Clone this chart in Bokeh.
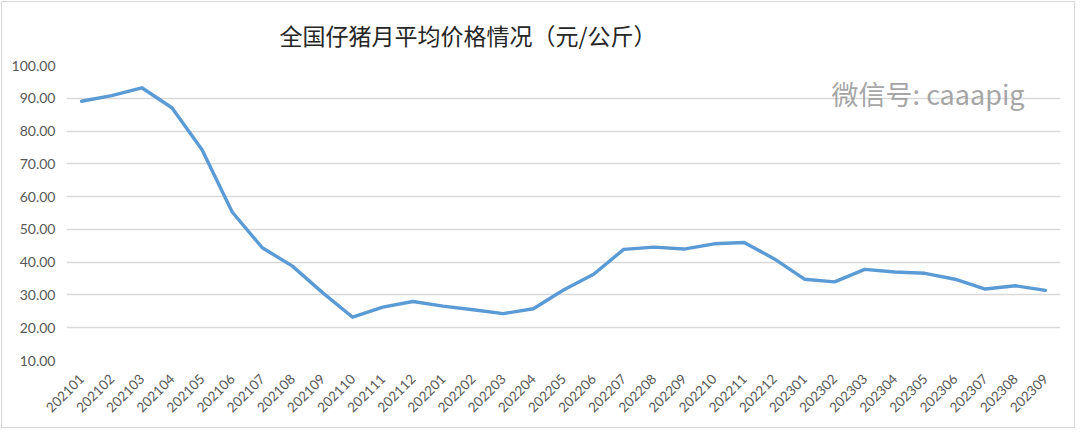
import math
from bokeh.plotting import figure
from bokeh.models import (ColumnDataSource, FixedTicker, NumeralTickFormatter, Label, Range1d,
                          Title, InlineStyleSheet)
from bokeh.embed import file_html
from bokeh.resources import INLINE

title_text = "全国仔猪月平均价格情况（元/公斤）"
watermark_text = "微信号: caaapig"

months = ["202101", "202102", "202103", "202104", "202105", "202106", "202107", "202108",
          "202109", "202110", "202111", "202112", "202201", "202202", "202203", "202204",
          "202205", "202206", "202207", "202208", "202209", "202210", "202211", "202212",
          "202301", "202302", "202303", "202304", "202305", "202306", "202307", "202308",
          "202309"]
prices = [89.1, 90.8, 93.2, 87.1, 74.3, 55.3, 44.4, 38.8, 30.7, 23.2, 26.3, 28.0,
          26.6, 25.5, 24.3, 25.8, 31.5, 36.3, 43.9, 44.6, 44.0, 45.6, 46.0, 41.0,
          34.8, 34.0, 37.8, 37.0, 36.6, 34.8, 31.8, 32.8, 31.4]
y_ticks = [10, 20, 30, 40, 50, 60, 70, 80, 90, 100]

src = ColumnDataSource(data=dict(month=months, price=prices))

p = figure(x_range=months, y_range=Range1d(10, 100), width=1072, height=424,
           output_backend="svg", toolbar_location=None,
           min_border_left=66, min_border_right=12, min_border_top=65, min_border_bottom=64)
p.title.visible = False
p.stylesheets = [InlineStyleSheet(css=":host::after { content: ''; position: absolute; "
                                      "left: 1px; top: 1px; right: -3px; bottom: -4px; "
                                      "border: 1px solid #d6d6d6; pointer-events: none; "
                                      "z-index: 100; }")]

p.line(x="month", y="price", source=src, line_color="#5B9BD5", line_width=3.4,
       line_join="round", line_cap="round")

p.outline_line_color = None
p.background_fill_color = "white"
p.border_fill_color = "white"

p.xgrid.grid_line_color = None
p.ygrid.grid_line_color = "#d9d9d9"
p.ygrid.grid_line_width = 1.3

p.yaxis.ticker = FixedTicker(ticks=y_ticks)
p.yaxis.formatter = NumeralTickFormatter(format="0.00")
p.yaxis.axis_line_color = None
p.yaxis.major_tick_line_color = None
p.yaxis.minor_tick_line_color = None
p.yaxis.major_label_text_font = "Lato"
p.yaxis.major_label_text_font_size = "14px"
p.yaxis.major_label_text_color = "#595959"
p.yaxis.major_label_standoff = 5

p.xaxis.axis_line_color = None
p.xaxis.major_tick_line_color = None
p.xaxis.minor_tick_line_color = None
p.xaxis.major_label_orientation = math.pi / 4
p.xaxis.major_label_text_font = "Lato"
p.xaxis.major_label_text_font_size = "13.5px"
p.xaxis.major_label_text_color = "#595959"
p.xaxis.major_label_standoff = 10

p.add_layout(Title(text=title_text, align="left", offset=213, standoff=27,
                   text_font="Noto Sans CJK SC", text_font_size="23px",
                   text_font_style="normal", text_color="#262626"), "above")

p.add_layout(Label(x=25.4, y=91.4, text=watermark_text, text_font="Noto Sans CJK SC",
                   text_font_size="27px", text_color="#9a9a9a", text_alpha=0.9,
                   text_baseline="middle", text_align="left"))

open("out.html", "w").write(file_html(p, INLINE))
